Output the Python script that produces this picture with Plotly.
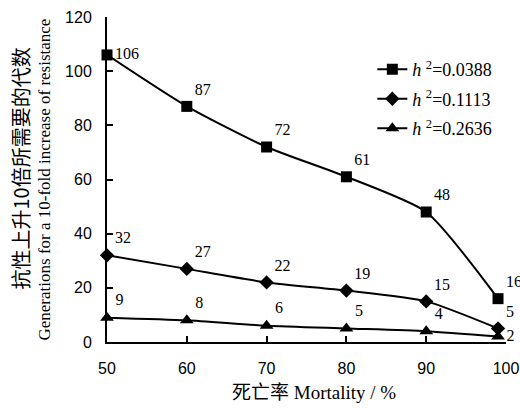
import plotly.graph_objects as go

mortality = [50, 60, 70, 80, 90, 99]
series_names = ["<i>h</i> <sup>2</sup>=0.0388", "<i>h</i> <sup>2</sup>=0.1113", "<i>h</i> <sup>2</sup>=0.2636"]
gen_h1 = [106, 87, 72, 61, 48, 16]
gen_h2 = [32, 27, 22, 19, 15, 5]
gen_h3 = [9, 8, 6, 5, 4, 2]
x_ticks = [50, 60, 70, 80, 90, 100]
y_ticks = [0, 20, 40, 60, 80, 100, 120]
y_title_cn = "抗性上升10倍所需要的代数"
y_title_en = "Generations for a 10-fold increase of resistance"
x_title = "死亡率 Mortality / %"

serif = "Liberation Serif, Times New Roman, serif"
sans = "Liberation Sans, Arial, sans-serif"
cjk = "Noto Sans CJK SC"

fig = go.Figure()
symbols = ["square", "diamond", "triangle-up"]
sizes = [11, 11, 12]
positions = [
    ["middle right", "top right", "top right", "top right", "top right", "top right"],
    ["top right", "top right", "top right", "top right", "top right", "top right"],
    ["top right", "top right", "top right", "top right", "top right", "middle right"],
]
for i, (name, ys, sym, sz, pos) in enumerate(zip(series_names, [gen_h1, gen_h2, gen_h3], symbols, sizes, positions)):
    fig.add_trace(go.Scatter(
        x=mortality, y=ys, name=name, legendgroup=f"g{i}",
        mode="lines+markers+text",
        text=[str(v) for v in ys],
        textposition=pos,
        textfont=dict(family=serif, size=16, color="black"),
        line=dict(color="black", width=2, shape="spline", smoothing=0.6),
        marker=dict(symbol=sym, size=sz, color="black"),
        cliponaxis=False,
    ))

fig.update_layout(
    width=520, height=408,
    margin=dict(l=107, r=14, t=17, b=66),
    paper_bgcolor="white", plot_bgcolor="white",
    showlegend=True,
    legend=dict(
        x=0.665, y=0.895, xanchor="left", yanchor="top",
        font=dict(family=serif, size=18, color="black"),
        bgcolor="rgba(0,0,0,0)", tracegroupgap=3,
    ),
    xaxis=dict(
        range=[50, 100], tickvals=x_ticks, automargin=False,
        showline=True, linecolor="black", linewidth=2,
        ticks="inside", ticklen=6, tickwidth=2, tickcolor="black",
        showgrid=False, zeroline=False, ticklabelstandoff=11,
        tickfont=dict(family=sans, size=16, color="black"),
    ),
    yaxis=dict(
        range=[0, 120], tickvals=y_ticks, automargin=False,
        showline=True, linecolor="black", linewidth=2,
        ticks="inside", ticklen=6, tickwidth=2, tickcolor="black",
        showgrid=False, zeroline=False, ticklabelstandoff=10,
        tickfont=dict(family=sans, size=16, color="black"),
    ),
    annotations=[
        dict(text=y_title_cn, xref="paper", yref="paper", x=0, y=0.5,
             xanchor="center", yanchor="middle",
             xshift=-87, yshift=11, textangle=-90, showarrow=False,
             font=dict(family=cjk, size=20, color="black")),
        dict(text=y_title_en, xref="paper", yref="paper", x=0, y=0.5,
             xanchor="center", yanchor="middle",
             xshift=-63, yshift=0, textangle=-90, showarrow=False,
             font=dict(family=serif, size=17, color="black")),
        dict(text=x_title, xref="paper", yref="paper", x=0.5, y=0,
             xanchor="center", yanchor="middle",
             xshift=7, yshift=-50, showarrow=False,
             font=dict(family=serif + ", " + cjk, size=19, color="black")),
    ],
)

# remove the default page margin so the 520x408 figure fills the window exactly
fig.write_html("out.html", config={"displayModeBar": False},
               post_script="document.body.style.margin='0';")
